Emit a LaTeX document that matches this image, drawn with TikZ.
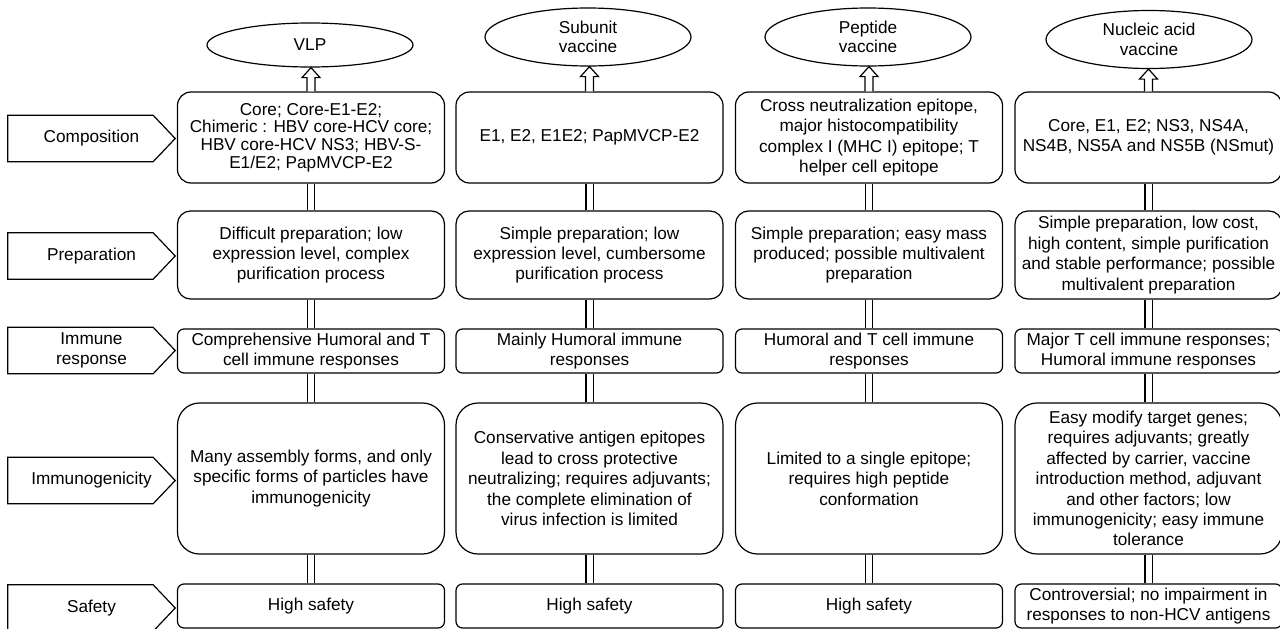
\documentclass[tikz,border=0pt]{standalone}
\usepackage{fontspec}
\setmainfont{Liberation Sans}
\usetikzlibrary{calc,backgrounds,shapes.geometric}
\newcommand{\txt}{\fontsize{17.2}{20.4}\selectfont}
\tikzset{
  cell/.style={draw, line width=1.2pt, fill=white, align=center, minimum width=267pt, inner sep=2pt, font=\txt},
  compbox/.style={cell, rounded corners=13.5pt, minimum height=91pt},
  prepbox/.style={cell, rounded corners=13pt, minimum height=88pt},
  immbox/.style={cell, rounded corners=6.5pt, minimum height=44pt},
  genbox/.style={cell, rounded corners=22pt, minimum height=151pt},
  safebox/.style={cell, rounded corners=6.5pt, minimum height=44pt},
  kind/.style={ellipse, draw, line width=1.2pt, fill=white, align=center, inner sep=0pt, minimum width=206pt, minimum height=#1, font=\fontsize{17.2}{19.3}\selectfont},
  tag/.style={align=center, inner sep=0pt, minimum width=167pt, minimum height=46pt, font=\txt},
  tagline/.style={line width=1.2pt, line join=miter},
  link/.style={double, double distance=6pt, line width=1.2pt},
  hollow/.style={draw, fill=white, line width=1.2pt, line join=miter},
}
\begin{document}
\begin{tikzpicture}[x=1pt, y=-1pt]
  \useasboundingbox (0,0) rectangle (1280,629);
  % vaccine types
  \node[kind=44pt] (top1) at (310,45) {VLP};
  \node[kind=58pt] (top2) at (588,37) {Subunit\\vaccine};
  \node[kind=58pt] (top3) at (868,37) {Peptide\\vaccine};
  \node[kind=58pt] (top4) at (1149,39.5) {Nucleic acid\\vaccine};
  % row headings
  \node[tag] (lcomp) at (91.5,138.5) {Composition};
  \node[tag] (lprep) at (91.5,256) {Preparation};
  \node[tag] (limm) at (91.5,350.5) {Immune\\response};
  \node[tag] (lgen) at (91.5,480.5) {Immunogenicity};
  \node[tag] (lsafe) at (91.5,608) {Safety};
  \foreach \l in {lcomp,lprep,limm,lgen,lsafe}
    \draw[tagline] (\l.north west) -- ($(\l.north east)+(-22pt,0)$) -- (\l.east)
      -- ($(\l.south east)+(-22pt,0)$) -- (\l.south west) -- cycle;
  % VLP
  \node[compbox] (comp1) at (311,137.5) {Core; Core-E1-E2;\\[-2.8pt]Chimeric : HBV core-HCV core;\\[-2.8pt]HBV core-HCV NS3; HBV-S-\\[-2.8pt]E1/E2; PapMVCP-E2};
  \node[prepbox] (prep1) at (311,255) {Difficult preparation; low\\expression level, complex\\purification process};
  \node[immbox] (imm1) at (311,351) {Comprehensive Humoral and T\\cell immune responses};
  \node[genbox] (gen1) at (311,478.5) {Many assembly forms, and only\\specific forms of particles have\\immunogenicity};
  \node[safebox] (safe1) at (311,606) {High safety};
  % subunit vaccine
  \node[compbox] (comp2) at (589.5,137.5) {E1, E2, E1E2; PapMVCP-E2};
  \node[prepbox] (prep2) at (589.5,255) {Simple preparation; low\\expression level, cumbersome\\purification process};
  \node[immbox] (imm2) at (589.5,351) {Mainly Humoral immune\\responses};
  \node[genbox] (gen2) at (589.5,478.5) {Conservative antigen epitopes\\lead to cross protective\\neutralizing; requires adjuvants;\\the complete elimination of\\virus infection is limited};
  \node[safebox] (safe2) at (589.5,606) {High safety};
  % peptide vaccine
  \node[compbox] (comp3) at (869,137.5) {Cross neutralization epitope,\\major histocompatibility\\complex I (MHC I) epitope; T\\helper cell epitope};
  \node[prepbox] (prep3) at (869,255) {Simple preparation; easy mass\\produced; possible multivalent\\preparation};
  \node[immbox] (imm3) at (869,351) {Humoral and T cell immune\\responses};
  \node[genbox] (gen3) at (869,478.5) {Limited to a single epitope;\\requires high peptide\\conformation};
  \node[safebox] (safe3) at (869,606) {High safety};
  % nucleic acid vaccine
  \node[compbox] (comp4) at (1148.5,137.5) {Core, E1, E2; NS3, NS4A,\\NS4B, NS5A and NS5B (NSmut)};
  \node[prepbox] (prep4) at (1148.5,255) {Simple preparation, low cost,\\high content, simple purification\\and stable performance; possible\\multivalent preparation};
  \node[immbox] (imm4) at (1148.5,351) {Major T cell immune responses;\\Humoral immune responses};
  \node[genbox] (gen4) at (1148.5,478.5) {Easy modify target genes;\\requires adjuvants; greatly\\affected by carrier, vaccine\\introduction method, adjuvant\\and other factors; low\\immunogenicity; easy immune\\tolerance};
  \node[safebox] (safe4) at (1148.5,606) {Controversial; no impairment in\\responses to non-HCV antigens};
  % connectors
  \begin{scope}[on background layer]
    \foreach \a/\b in {comp/prep,prep/imm,imm/gen,gen/safe}
      \foreach \c in {1,...,4} { \draw[link] (\a\c) -- (\b\c); }
  \end{scope}
  \foreach \c in {1,...,4} {
    \draw[hollow] let \p1=(comp\c.north), \p2=(top\c.south) in
      (\x1-4pt,\y1) -- (\x1-4pt,\y2-10pt) -- (\x1-9pt,\y2-10pt) -- (\x1,\y2)
      -- (\x1+9pt,\y2-10pt) -- (\x1+4pt,\y2-10pt) -- (\x1+4pt,\y1);
  }
\end{tikzpicture}
\end{document}
